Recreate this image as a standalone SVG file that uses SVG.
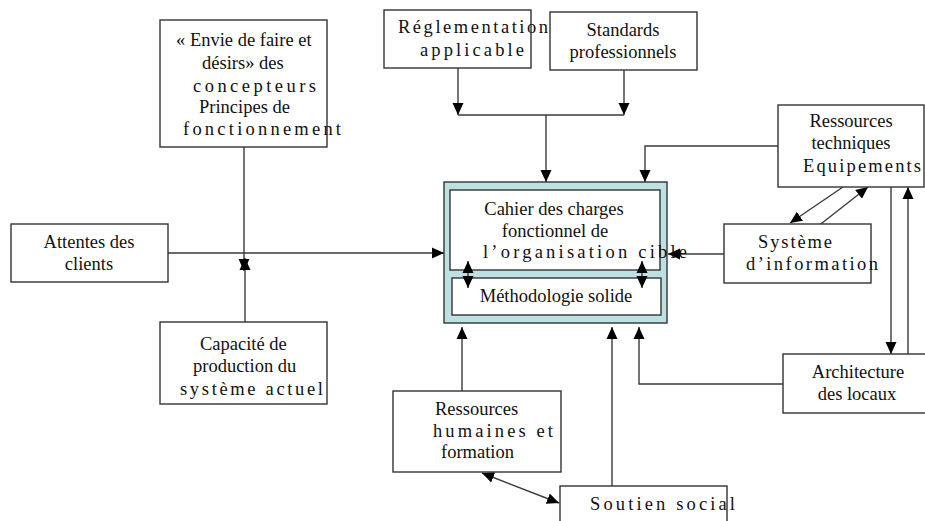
<svg xmlns="http://www.w3.org/2000/svg" width="925" height="521" viewBox="0 0 925 521">
<defs>
<style>
.box{fill:#fff;stroke:#333;stroke-width:1.4}
.outer{fill:#bde0e3;stroke:#333;stroke-width:1.4}
.c{fill:none;stroke:#3a3a3a;stroke-width:1.4}
text{font-family:"Liberation Serif","Times New Roman",serif;font-size:18.5px;fill:#111}
.m{text-anchor:middle}
</style>
<marker id="ah" viewBox="0 0 12 12" markerUnits="userSpaceOnUse" markerWidth="12" markerHeight="12" refX="12" refY="6" orient="auto-start-reverse">
<path d="M0,0.5 L12,6 L0,11.5 z" fill="#000"/>
</marker>
</defs>
<rect width="925" height="521" fill="#fff"/>

<g id="connectors">
<path class="c" d="M458,68 V115" marker-end="url(#ah)"/>
<path class="c" d="M624,70 V115" marker-end="url(#ah)"/>
<path class="c" d="M458,115 H624"/>
<path class="c" d="M546,115 V182" marker-end="url(#ah)"/>
<path class="c" d="M244,147 V271" marker-end="url(#ah)"/>
<path class="c" d="M245,322 V258" marker-end="url(#ah)"/>
<path class="c" d="M168,253 H444" marker-end="url(#ah)"/>
<path class="c" d="M778,146 H645 V182" marker-end="url(#ah)"/>
<path class="c" d="M724,254 H668" marker-end="url(#ah)"/>
<path class="c" d="M843,187 L790,223" marker-end="url(#ah)"/>
<path class="c" d="M817,227 L868,187" marker-end="url(#ah)"/>
<path class="c" d="M891,187 V354" marker-end="url(#ah)"/>
<path class="c" d="M908,354 V187" marker-end="url(#ah)"/>
<path class="c" d="M783,384 H639 V327" marker-end="url(#ah)"/>
<path class="c" d="M612,486 V327" marker-end="url(#ah)"/>
<path class="c" d="M462,391 V327" marker-end="url(#ah)"/>
<path class="c" d="M482,473 L559,503" marker-start="url(#ah)" marker-end="url(#ah)"/>
</g>

<g id="envie">
<rect class="box" x="160" y="20" width="167" height="127"/>
<text x="176" y="46">« Envie de faire et</text>
<text x="202" y="69">désirs» des</text>
<text x="193" y="92" textLength="123" lengthAdjust="spacing">concepteurs</text>
<text x="199" y="113">Principes de</text>
<text x="183" y="135" textLength="158" lengthAdjust="spacing">fonctionnement</text>
</g>

<g id="reglementation">
<rect class="box" x="384" y="10" width="147" height="58"/>
<text x="398" y="33" textLength="150" lengthAdjust="spacing">Réglementation</text>
<text x="420" y="56" textLength="104" lengthAdjust="spacing">applicable</text>
</g>

<g id="standards">
<rect class="box" x="550" y="12" width="147" height="58"/>
<text class="m" x="623" y="36">Standards</text>
<text class="m" x="623" y="58">professionnels</text>
</g>

<g id="cahier">
<rect class="outer" x="444" y="182" width="223" height="141"/>
<rect class="box" x="450" y="190" width="210" height="80"/>
<rect class="box" x="452" y="278" width="209" height="37"/>
<text class="m" x="554" y="215">Cahier des charges</text>
<text class="m" x="555" y="237">fonctionnel de</text>
<text x="483" y="258" textLength="204" lengthAdjust="spacing">l’organisation cible</text>
<text class="m" x="556" y="302">Méthodologie solide</text>
<path class="c" d="M468,261 V288" marker-start="url(#ah)" marker-end="url(#ah)"/>
<path class="c" d="M642,261 V288" marker-start="url(#ah)" marker-end="url(#ah)"/>
</g>

<g id="attentes">
<rect class="box" x="11" y="224" width="157" height="58"/>
<text class="m" x="89" y="248">Attentes des</text>
<text class="m" x="89" y="270">clients</text>
</g>

<g id="capacite">
<rect class="box" x="160" y="322" width="167" height="82"/>
<text x="200" y="350">Capacité de</text>
<text x="193" y="372">production du</text>
<text x="180" y="395" textLength="143" lengthAdjust="spacing">système actuel</text>
</g>

<g id="ressources-techniques">
<rect class="box" x="778" y="105" width="146" height="82"/>
<text class="m" x="851" y="127">Ressources</text>
<text class="m" x="851" y="149">techniques</text>
<text x="803" y="172" textLength="118" lengthAdjust="spacing">Equipements</text>
</g>

<g id="systeme-information">
<rect class="box" x="724" y="224" width="147" height="59"/>
<text x="758" y="248" textLength="74" lengthAdjust="spacing">Système</text>
<text x="746" y="270" textLength="132" lengthAdjust="spacing">d’information</text>
</g>

<g id="architecture">
<rect class="box" x="783" y="354" width="150" height="59"/>
<text class="m" x="858" y="378">Architecture</text>
<text class="m" x="857" y="400">des locaux</text>
</g>

<g id="ressources-humaines">
<rect class="box" x="393" y="391" width="168" height="81"/>
<text x="435" y="415">Ressources</text>
<text x="433" y="437" textLength="120" lengthAdjust="spacing">humaines et</text>
<text x="441" y="458">formation</text>
</g>

<g id="soutien">
<rect class="box" x="560" y="486" width="167" height="50"/>
<text x="590" y="510" textLength="145" lengthAdjust="spacing">Soutien social</text>
</g>
</svg>
